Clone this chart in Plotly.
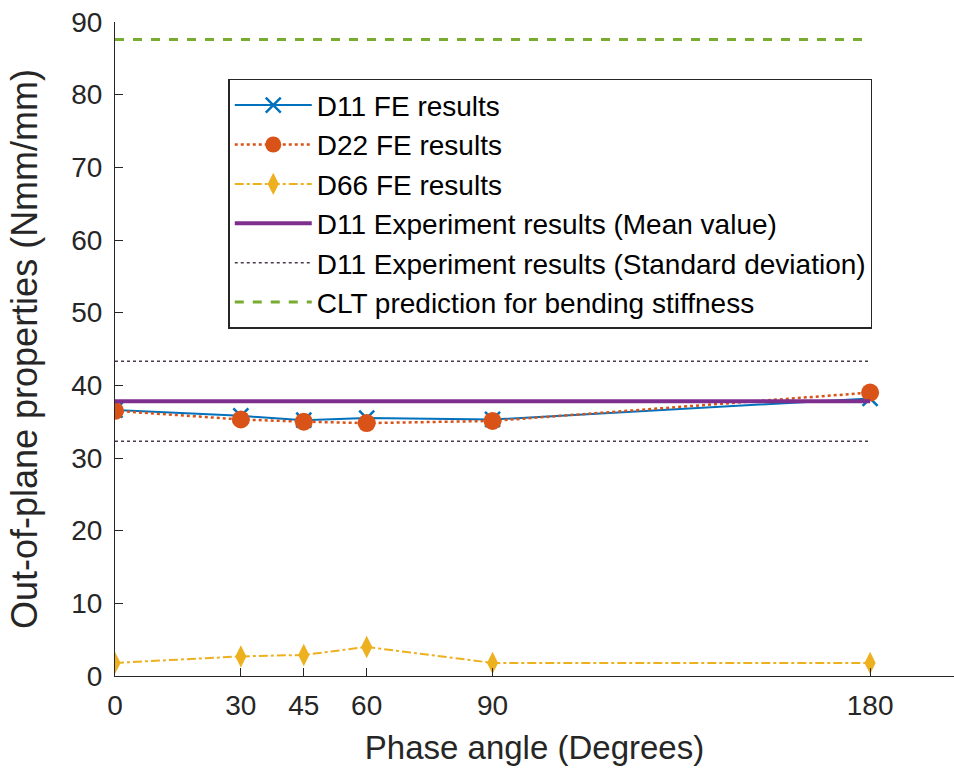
import plotly.graph_objects as go

# Phase angles (degrees) at which the FE models were evaluated
phase_angle = [0, 30, 45, 60, 90, 180]

# Out-of-plane bending stiffness from FE (Nmm/mm)
d11_fe = [36.6, 35.8, 35.2, 35.5, 35.3, 38.2]
d22_fe = [36.5, 35.3, 35.0, 34.8, 35.1, 39.0]
d66_fe = [1.8, 2.7, 2.9, 4.0, 1.8, 1.8]

# Experimental D11 (mean and mean +/- standard deviation) and CLT prediction
exp_span = [0, 180]
d11_exp_mean = 37.8
d11_exp_std = 5.5
clt_span = [0, 180]
clt_d11 = 87.6

x_ticks = [0, 30, 45, 60, 90, 180]
y_ticks = [0, 10, 20, 30, 40, 50, 60, 70, 80, 90]

FONT = "Liberation Sans, Arial, Helvetica, sans-serif"
INK = "#262626"

fig = go.Figure()

fig.add_trace(go.Scatter(
    x=phase_angle, y=d11_fe, name="D11 FE results", legendgroup="a",
    mode="lines+markers",
    line=dict(color="#0072BD", width=2),
    marker=dict(symbol="x-thin", size=15, line=dict(color="#0072BD", width=2.5)),
))
fig.add_trace(go.Scatter(
    x=phase_angle, y=d22_fe, name="D22 FE results", legendgroup="b",
    mode="lines+markers",
    line=dict(color="#D95319", width=2.5, dash="dot"),
    marker=dict(symbol="circle", size=18, color="#D95319"),
))
fig.add_trace(go.Scatter(
    x=phase_angle, y=d66_fe, name="D66 FE results", legendgroup="c",
    mode="lines+markers",
    line=dict(color="#EDB120", width=2, dash="dashdot"),
    marker=dict(symbol="diamond-tall", size=16, color="#EDB120"),
))
fig.add_trace(go.Scatter(
    x=exp_span, y=[d11_exp_mean] * 2, name="D11 Experiment results (Mean value)",
    legendgroup="d", mode="lines",
    line=dict(color="#7E2F8E", width=4),
))
fig.add_trace(go.Scatter(
    x=exp_span, y=[d11_exp_mean + d11_exp_std] * 2,
    name="D11 Experiment results (Standard deviation)", legendgroup="e",
    mode="lines", line=dict(color="#4a3a4c", width=1.5, dash="dot"),
))
fig.add_trace(go.Scatter(
    x=exp_span, y=[d11_exp_mean - d11_exp_std] * 2,
    name="D11 Experiment results (Standard deviation)", legendgroup="e",
    showlegend=False,
    mode="lines", line=dict(color="#4a3a4c", width=1.5, dash="dot"),
))
fig.add_trace(go.Scatter(
    x=clt_span, y=[clt_d11] * 2, name="CLT prediction for bending stiffness",
    legendgroup="f", mode="lines",
    line=dict(color="#77AC30", width=3, dash="dash"),
))

fig.update_layout(
    width=954, height=776,
    margin=dict(l=115, r=0, t=22, b=100),
    paper_bgcolor="white", plot_bgcolor="white",
    font=dict(family=FONT, size=27, color=INK),
    legend=dict(
        x=0.135, y=0.913, xanchor="left", yanchor="top",
        bgcolor="white", bordercolor=INK, borderwidth=1.5,
        font=dict(family=FONT, size=28, color="#000000"),
        itemwidth=77, tracegroupgap=0,
    ),
    xaxis=dict(
        range=[0, 200], tickvals=x_ticks, ticktext=[str(v) for v in x_ticks],
        showline=True, linecolor=INK, linewidth=1.2, mirror=False,
        ticks="inside", ticklen=8, tickcolor=INK, showgrid=False, zeroline=False,
        automargin=False, ticklabelstandoff=4,
        title=dict(text="Phase angle (Degrees)", font=dict(size=33), standoff=16),
        tickfont=dict(size=28),
    ),
    yaxis=dict(
        range=[0, 90], tickvals=y_ticks,
        showline=True, linecolor=INK, linewidth=1.2, mirror=False,
        ticks="inside", ticklen=8, tickcolor=INK, showgrid=False, zeroline=False,
        automargin=False, ticklabelstandoff=6,
        title=dict(text="Out-of-plane properties (Nmm/mm)", font=dict(size=36), standoff=22),
        tickfont=dict(size=28),
    ),
)

fig.write_html("out.html")
